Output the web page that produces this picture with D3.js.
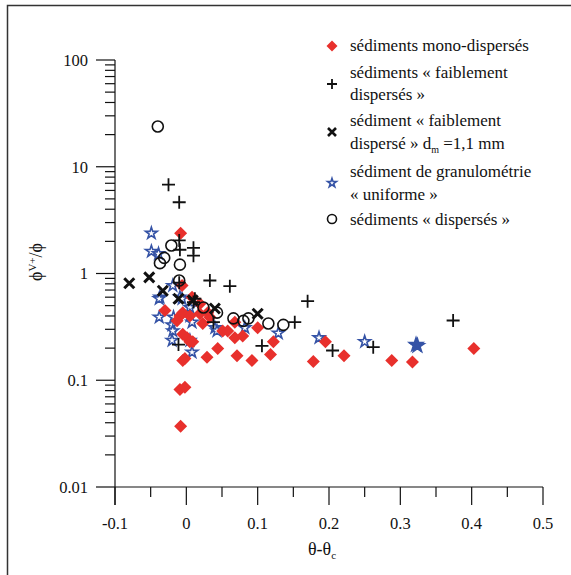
<!DOCTYPE html>
<html><head><meta charset="utf-8">
<script src="https://cdn.jsdelivr.net/npm/d3@7"></script>
<style>body{margin:0;background:#fff}svg{display:block}</style>
</head><body>
<script>
// x tick values and labels
const xTicks = [-0.1,0,0.1,0.2,0.3,0.4,0.5];
const xTickLabels = ["-0.1","0","0.1","0.2","0.3","0.4","0.5"];
const yTicks = [0.01,0.1,1,10,100];
const yTickLabels = ["0.01","0.1","1","10","100"];

// séries
const mono = [[-0.008,2.38],[-0.006,0.77],[0.008,0.60],[-0.030,0.45],[-0.009,0.40],[-0.013,0.36],[-0.005,0.43],[0.005,0.40],[0.019,0.42],[0.023,0.34],[0.033,0.39],[0.030,0.43],[-0.005,0.27],[0.001,0.25],[0.005,0.23],[0.009,0.23],[-0.002,0.16],[-0.005,0.153],[0.029,0.164],[0.044,0.198],[0.051,0.29],[0.058,0.29],[0.068,0.35],[0.068,0.25],[0.079,0.26],[0.071,0.17],[0.092,0.153],[0.100,0.31],[0.122,0.23],[0.118,0.174],[0.178,0.15],[0.195,0.23],[0.221,0.17],[0.288,0.153],[0.317,0.148],[0.403,0.198],[-0.009,0.082],[-0.002,0.086],[-0.008,0.037],[0.019,0.52]];
const faibl = [[-0.025,6.8],[-0.010,4.65],[-0.010,2.04],[-0.009,1.67],[0.010,1.74],[0.010,1.47],[-0.010,0.82],[0.033,0.86],[0.061,0.76],[0.012,0.58],[0.010,0.54],[0.038,0.35],[-0.011,0.216],[0.106,0.21],[0.152,0.35],[0.170,0.55],[0.205,0.19],[0.262,0.204],[0.374,0.363]];
const faiblDm = [[-0.080,0.81],[-0.052,0.92],[-0.033,0.69],[-0.011,0.58],[0.009,0.56],[0.040,0.47],[0.100,0.42]];
const uniforme = [[-0.049,2.38],[-0.049,1.61],[-0.039,1.53],[-0.037,0.60],[-0.019,0.77],[-0.009,0.60],[-0.038,0.58],[-0.006,0.58],[-0.038,0.39],[-0.018,0.39],[-0.020,0.33],[-0.019,0.29],[-0.020,0.236],[0.005,0.48],[0.005,0.40],[0.008,0.35],[0.005,0.236],[0.008,0.183],[0.040,0.31],[0.043,0.29],[0.082,0.31],[0.129,0.276],[0.186,0.25],[0.250,0.23]];
const uniformeFilled = [[0.322,0.215],[0.324,0.21]];
const disperses = [[-0.040,23.8],[-0.021,1.83],[-0.031,1.40],[-0.037,1.25],[-0.009,1.21],[-0.010,0.86],[0.024,0.48],[0.043,0.43],[0.066,0.38],[0.080,0.36],[0.087,0.38],[0.115,0.34],[0.136,0.33]];

const legendLabels = [
  ["sédiments mono-dispersés"],
  ["sédiments « faiblement","dispersés »"],
  ["sédiment « faiblement","dispersé » d"],
  ["sédiment de granulométrie","« uniforme »"],
  ["sédiments « dispersés »"]
];

const W=571,H=575;
const RED="#e8302c", BLUE="#3553a6";
const FONT="'Liberation Serif', 'DejaVu Serif', serif";
const svg=d3.select("body").append("svg").attr("width",W).attr("height",H)
  .attr("font-family",FONT).attr("fill","#111");
// frame
svg.append("path").attr("d","M7.5,575 V5.5 H571").attr("fill","none").attr("stroke","#333").attr("stroke-width",1.5);

const x=d3.scaleLinear().domain([-0.1,0.5]).range([115,543]);
const y=d3.scaleLog().domain([0.01,100]).range([487,60]);

// x axis
const gx=svg.append("g").attr("transform","translate(0,487)");
gx.append("line").attr("x1",115).attr("x2",543).attr("stroke","#111").attr("stroke-width",1.2);
const xMinor=d3.range(-0.05,0.5,0.1);
gx.selectAll(".xm").data(xMinor).join("line").attr("x1",d=>x(d)).attr("x2",d=>x(d)).attr("y1",0).attr("y2",10).attr("stroke","#111").attr("stroke-width",1.2);
gx.selectAll(".xM").data(xTicks).join("line").attr("x1",d=>x(d)).attr("x2",d=>x(d)).attr("y1",0).attr("y2",18).attr("stroke","#111").attr("stroke-width",1.2);
gx.selectAll(".xl").data(xTicks).join("text").attr("x",d=>x(d)).attr("y",42).attr("text-anchor","middle").attr("font-size",16.5).text((d,i)=>xTickLabels[i]);

// y axis
const gy=svg.append("g");
gy.append("line").attr("x1",115).attr("x2",115).attr("y1",60).attr("y2",505).attr("stroke","#111").attr("stroke-width",1.2);
const yMinor=[];
[0.01,0.1,1,10].forEach(b=>{for(let k=2;k<=9;k++) yMinor.push(b*k);});
gy.selectAll(".ym").data(yMinor).join("line").attr("x1",105).attr("x2",115).attr("y1",d=>y(d)).attr("y2",d=>y(d)).attr("stroke","#111").attr("stroke-width",1.2);
gy.selectAll(".yM").data(yTicks).join("line").attr("x1",96).attr("x2",115).attr("y1",d=>y(d)).attr("y2",d=>y(d)).attr("stroke","#111").attr("stroke-width",1.2);
gy.selectAll(".yl").data(yTicks).join("text").attr("x",88).attr("y",d=>y(d)).attr("dy","0.35em").attr("text-anchor","end").attr("font-size",16.5).text((d,i)=>yTickLabels[i]);

// axis titles
const xt=svg.append("text").attr("x",322).attr("y",555).attr("text-anchor","middle").attr("font-size",18);
xt.append("tspan").text("θ-θ");
xt.append("tspan").attr("font-size",11).attr("dy",4).text("c");
const yt=svg.append("text").attr("transform","translate(42,262) rotate(-90)").attr("text-anchor","middle").attr("font-size",18);
yt.append("tspan").text("ϕ");
yt.append("tspan").attr("font-size",11).attr("dy",-6).text("V+");
yt.append("tspan").attr("dy",6).text("/ϕ");

// marker drawers
const diamond=(g,cx,cy,s)=>g.append("path").attr("d",`M${cx},${cy-s}L${cx+s},${cy}L${cx},${cy+s}L${cx-s},${cy}Z`).attr("fill",RED);
const plus=(g,cx,cy,s,w)=>g.append("path").attr("d",`M${cx-s},${cy}H${cx+s}M${cx},${cy-s}V${cy+s}`).attr("stroke","#111").attr("stroke-width",w).attr("fill","none");
const cross=(g,cx,cy,s,w)=>g.append("path").attr("d",`M${cx-s},${cy-s}L${cx+s},${cy+s}M${cx-s},${cy+s}L${cx+s},${cy-s}`).attr("stroke","#111").attr("stroke-width",w).attr("fill","none");
const starPath=d3.symbol().type(d3.symbolStar);
const star=(g,cx,cy,size,filled)=>g.append("path").attr("d",starPath.size(size)()).attr("transform",`translate(${cx},${cy})`).attr("fill",filled?BLUE:"#fff").attr("stroke",BLUE).attr("stroke-width",1.6);
const circ=(g,cx,cy,r)=>g.append("circle").attr("cx",cx).attr("cy",cy).attr("r",r).attr("fill","none").attr("stroke","#111").attr("stroke-width",1.6);

const gp=svg.append("g");
uniforme.forEach(d=>star(gp,x(d[0]),y(d[1]),42,false));
mono.forEach(d=>diamond(gp,x(d[0]),y(d[1]),6.5));
uniformeFilled.forEach(d=>star(gp,x(d[0]),y(d[1]),55,true));
disperses.forEach(d=>circ(gp,x(d[0]),y(d[1]),5.5));
faiblDm.forEach(d=>cross(gp,x(d[0]),y(d[1]),5,3));
faibl.forEach(d=>plus(gp,x(d[0]),y(d[1]),6.5,1.8));

// legend
const gl=svg.append("g");
const lx=332, tx=350, fs=17;
diamond(gl,lx,46,5.5);
gl.append("text").attr("x",tx).attr("y",51).attr("font-size",fs).text(legendLabels[0][0]);
plus(gl,lx,84,5,1.8);
gl.append("text").attr("x",tx).attr("y",78).attr("font-size",fs).text(legendLabels[1][0]);
gl.append("text").attr("x",tx).attr("y",100).attr("font-size",fs).text(legendLabels[1][1]);
cross(gl,lx,132,4,2.6);
gl.append("text").attr("x",tx).attr("y",126).attr("font-size",fs).text(legendLabels[2][0]);
const t2=gl.append("text").attr("x",tx).attr("y",149).attr("font-size",fs);
t2.append("tspan").text(legendLabels[2][1]);
t2.append("tspan").attr("font-size",10).attr("dy",4).text("m");
t2.append("tspan").attr("dy",-4).text(" =1,1 mm");
star(gl,lx,183,24,false);
gl.append("text").attr("x",tx).attr("y",177).attr("font-size",fs).text(legendLabels[3][0]);
gl.append("text").attr("x",tx).attr("y",200).attr("font-size",fs).text(legendLabels[3][1]);
circ(gl,lx,219,4.5);
gl.append("text").attr("x",tx).attr("y",225).attr("font-size",fs).text(legendLabels[4][0]);
</script>
</body></html>
